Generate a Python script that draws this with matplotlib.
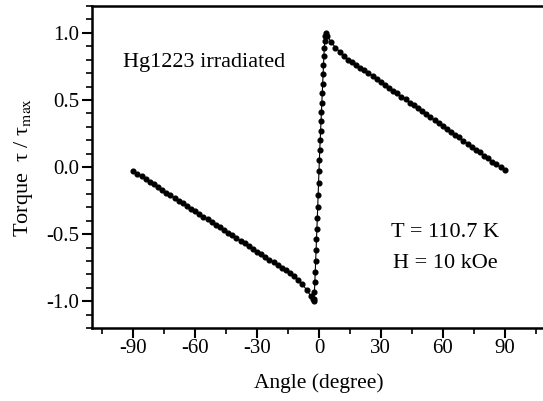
import numpy as np
import matplotlib.pyplot as plt

plt.rcParams['font.family'] = 'Liberation Serif'
plt.rcParams['mathtext.fontset'] = 'stix'

# torque curve
angle = [-90, -88, -86, -84, -82, -80, -78, -76, -74, -72, -70, -68, -66, -64,
         -62, -60, -58, -56, -54, -52, -50, -48, -46, -44, -42, -40, -38, -36,
         -34, -32, -30, -28, -26, -24, -22, -20, -18, -16, -14, -12, -10, -8,
         -6, -4, -3, -2.6,
         -2.4, -2.2, -2.0, -1.8, -1.6, -1.4, -1.2, -1.0, -0.8, -0.6, -0.4, -0.2,
         0.0, 0.2, 0.4, 0.6, 0.8, 1.0, 1.2, 1.4, 1.6, 1.8, 2.0, 2.2, 2.4, 2.6,
         2.8, 3.0, 3.3, 4,
         6, 8, 10, 12, 14, 16, 18, 20, 22, 24, 26, 28, 30, 32, 34, 36, 38, 40,
         42, 44, 46, 48, 50, 52, 54, 56, 58, 60, 62, 64, 66, 68, 70, 72, 74, 76,
         78, 80, 82, 84, 86, 88, 90]
torque = [-0.03, -0.05, -0.07, -0.09, -0.11, -0.13, -0.15, -0.17, -0.19, -0.21,
          -0.23, -0.25, -0.27, -0.29, -0.31, -0.33, -0.35, -0.37, -0.39, -0.41,
          -0.43, -0.45, -0.47, -0.49, -0.51, -0.53, -0.55, -0.57, -0.59, -0.61,
          -0.63, -0.65, -0.67, -0.69, -0.71, -0.73, -0.75, -0.77, -0.79, -0.815,
          -0.84, -0.875, -0.915, -0.96, -0.985, -1.0,
          -0.98, -0.93, -0.86, -0.78, -0.70, -0.62, -0.54, -0.46, -0.38, -0.30,
          -0.21, -0.12, -0.03, 0.05, 0.13, 0.20, 0.27, 0.34, 0.41, 0.48, 0.55,
          0.62, 0.69, 0.76, 0.83, 0.89, 0.94, 0.98, 1.0, 0.975,
          0.93, 0.89, 0.86, 0.83, 0.80, 0.78, 0.76, 0.74, 0.72, 0.70, 0.68,
          0.655, 0.635, 0.61, 0.59, 0.57, 0.55, 0.525, 0.505, 0.48, 0.46, 0.44,
          0.415, 0.395, 0.37, 0.35, 0.33, 0.305, 0.285, 0.26, 0.24, 0.22, 0.195,
          0.175, 0.15, 0.13, 0.11, 0.085, 0.065, 0.04, 0.02, 0.0, -0.02]

xticks = [-90, -60, -30, 0, 30, 60, 90]
yticks = [-1.0, -0.5, 0.0, 0.5, 1.0]

fig = plt.figure(figsize=(5.43, 4.01), dpi=100)
ax = fig.add_axes([0.1694, 0.182, 0.836, 0.803])

ax.plot(angle, torque, color='black', lw=0.8, marker='o', ms=3.4,
        mec='black', mfc='black')

ax.set_xlim(-110, 110)
ax.set_ylim(-1.2, 1.2)
ax.set_xticks(xticks)
ax.set_xticklabels([str(t) for t in xticks])
ax.set_yticks(yticks)
ax.set_yticklabels(['%.1f' % t for t in yticks])
ax.set_xticks(np.arange(-105, 106, 15), minor=True)
ax.set_yticks(np.arange(-1.2, 1.21, 0.1), minor=True)
ax.tick_params(which='major', direction='out', length=7, width=1.5,
               labelsize=15, top=False, right=False)
ax.tick_params(axis='x', which='major', pad=1)
ax.tick_params(axis='y', which='major', pad=2)
ax.tick_params(which='minor', direction='out', length=4, width=1.2,
               top=False, right=False)
for s in ax.spines.values():
    s.set_linewidth(1.8)

ax.set_xlabel('Angle (degree)', fontsize=15.5, labelpad=11)
ax.set_ylabel('Torque  τ / τ$_{\\mathrm{max}}$', fontsize=16, labelpad=8)

ax.text(-95, 0.78, 'Hg1223 irradiated', fontsize=16, va='center')
ax.text(61, -0.49, 'T = 110.7 K', fontsize=16, ha='center', va='center')
ax.text(61, -0.72, 'H = 10 kOe', fontsize=16, ha='center', va='center')

fig.savefig('out.png', dpi=100)
